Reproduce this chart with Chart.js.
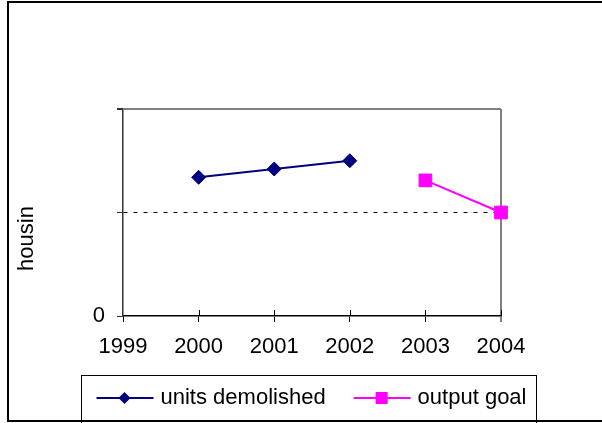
<!DOCTYPE html>
<html>
<head>
<meta charset="utf-8">
<script src="https://cdn.jsdelivr.net/npm/chart.js@4.4.1/dist/chart.umd.min.js"></script>
<style>
  html, body { margin: 0; padding: 0; background: #fff; }
</style>
</head>
<body>
<canvas id="housingChart" width="602" height="423"></canvas>
<script>
// years on the category axis
const years = ['1999', '2000', '2001', '2002', '2003', '2004'];
// housing units demolished per year
const unitsDemolished = [null, 134, 142, 150, null, null];
// planned output goal
const outputGoal = [null, null, null, null, 131, 100];
// value axis range
const yMin = 0;
const yMax = 200;
const yStep = 100;
const yTitle = 'housin';

const navy = '#000080';
const magenta = '#ff00ff';

Chart.defaults.font.family = '"Liberation Sans", Arial, sans-serif';
Chart.defaults.font.size = 22;
Chart.defaults.color = '#000';

// frame, boxed legend with line samples, rotated axis title
const decorations = {
  id: 'decorations',
  afterDraw(chart) {
    const ctx = chart.ctx;
    const area = chart.chartArea;
    const xScale = chart.scales.x;

    ctx.save();
    // small tick marks reaching up into the plot
    ctx.strokeStyle = '#000';
    ctx.lineWidth = 1;
    for (let i = 1; i < years.length; i++) {
      const px = Math.round(xScale.getPixelForTick(i)) + 0.5;
      ctx.beginPath();
      ctx.moveTo(px, area.bottom - 6);
      ctx.lineTo(px, area.bottom);
      ctx.stroke();
    }

    // axis title
    ctx.fillStyle = '#000';
    ctx.font = '22px "Liberation Sans", Arial, sans-serif';
    ctx.translate(area.left - 96, (area.top + area.bottom) / 2 + 26);
    ctx.rotate(-Math.PI / 2);
    ctx.textAlign = 'center';
    ctx.textBaseline = 'middle';
    ctx.fillText(yTitle, 0, 0);
    ctx.restore();

    // legend samples: line with marker
    const boxes = chart.legend.legendHitBoxes;
    const styles = [
      { color: navy, shape: 'diamond' },
      { color: magenta, shape: 'square' }
    ];
    ctx.save();
    boxes.forEach((hb, i) => {
      const cy = hb.top + hb.height / 2;
      const st = styles[i];
      ctx.strokeStyle = st.color;
      ctx.fillStyle = st.color;
      ctx.lineWidth = 2;
      ctx.beginPath();
      ctx.moveTo(hb.left, cy);
      ctx.lineTo(hb.left + 57, cy);
      ctx.stroke();
      const mx = hb.left + 28;
      ctx.beginPath();
      if (st.shape === 'diamond') {
        ctx.moveTo(mx - 6, cy);
        ctx.lineTo(mx, cy - 6);
        ctx.lineTo(mx + 6, cy);
        ctx.lineTo(mx, cy + 6);
        ctx.closePath();
      } else {
        ctx.rect(mx - 6, cy - 6, 12, 12);
      }
      ctx.fill();
    });

    // legend box
    const first = boxes[0];
    const last = boxes[boxes.length - 1];
    const lx = Math.round(first.left - 16) + 0.5;
    const rx = Math.round(last.left + last.width + 10) + 0.5;
    const ty = Math.round(first.top + first.height / 2 - 23) + 0.5;
    ctx.strokeStyle = '#000';
    ctx.lineWidth = 1;
    ctx.strokeRect(lx, ty, rx - lx, chart.height + 10 - ty);

    // outer frame
    ctx.lineWidth = 2;
    ctx.strokeRect(8, 2, 700, 419);
    ctx.restore();
  }
};

new Chart(document.getElementById('housingChart'), {
  type: 'line',
  data: {
    labels: years,
    datasets: [{
      label: 'units demolished',
      data: unitsDemolished,
      borderColor: navy,
      backgroundColor: navy,
      borderWidth: 2,
      pointStyle: 'rectRot',
      pointRadius: 7,
      pointBorderWidth: 1
    },
    {
      label: 'output goal',
      data: outputGoal,
      borderColor: magenta,
      backgroundColor: magenta,
      borderWidth: 2,
      pointStyle: 'rect',
      pointRadius: 9,
      pointBorderWidth: 1
    }]
  },
  options: {
    responsive: false,
    animation: false,
    layout: {
      padding: { top: 109, left: 21, right: 0, bottom: 4 }
    },
    plugins: {
      tooltip: { enabled: false },
      legend: {
        position: 'bottom',
        labels: {
          boxWidth: 53,
          padding: 28,
          color: '#000',
          font: { size: 22 },
          generateLabels(chart) {
            const items = Chart.defaults.plugins.legend.labels.generateLabels(chart);
            items.forEach(it => {
              it.fillStyle = 'rgba(0,0,0,0)';
              it.strokeStyle = 'rgba(0,0,0,0)';
            });
            return items;
          }
        }
      }
    },
    scales: {
      x: {
        offset: false,
        grid: {
          offset: false,
          color: c => c.index === years.length - 1 ? '#808080' : 'rgba(0,0,0,0)',
          lineWidth: c => c.index === years.length - 1 ? 2 : 1,
          tickColor: '#000',
          tickLength: 6,
          tickWidth: 1
        },
        border: { color: '#000', width: 1.5 },
        ticks: { color: '#000', padding: 12, maxRotation: 0, autoSkip: false },
        afterFit(s) { s.height = 43; }
      },
      y: {
        min: yMin,
        max: yMax,
        ticks: {
          stepSize: yStep,
          padding: 12,
          color: '#000',
          callback: v => v === 0 ? '0' : ''
        },
        grid: {
          color: c => {
            if (!c.tick) return 'rgba(0,0,0,0)';
            if (c.tick.value === yMax) return '#808080';
            if (c.tick.value === yStep) return '#000';
            return 'rgba(0,0,0,0)';
          },
          lineWidth: c => (c.tick && c.tick.value === yMax) ? 2 : 1,
          tickColor: '#333',
          tickLength: 6
        },
        border: {
          color: '#333',
          width: 1.5,
          dash: c => (c.tick && c.tick.value === yStep) ? [4, 6] : []
        },
        afterFit(s) { s.width = 102; }
      },
      yRight: {
        position: 'right',
        display: true,
        grid: { display: false, drawTicks: false },
        border: { display: false },
        ticks: { display: false },
        afterFit(s) { s.width = 101; }
      }
    }
  },
  plugins: [decorations]
});
</script>
</body>
</html>
